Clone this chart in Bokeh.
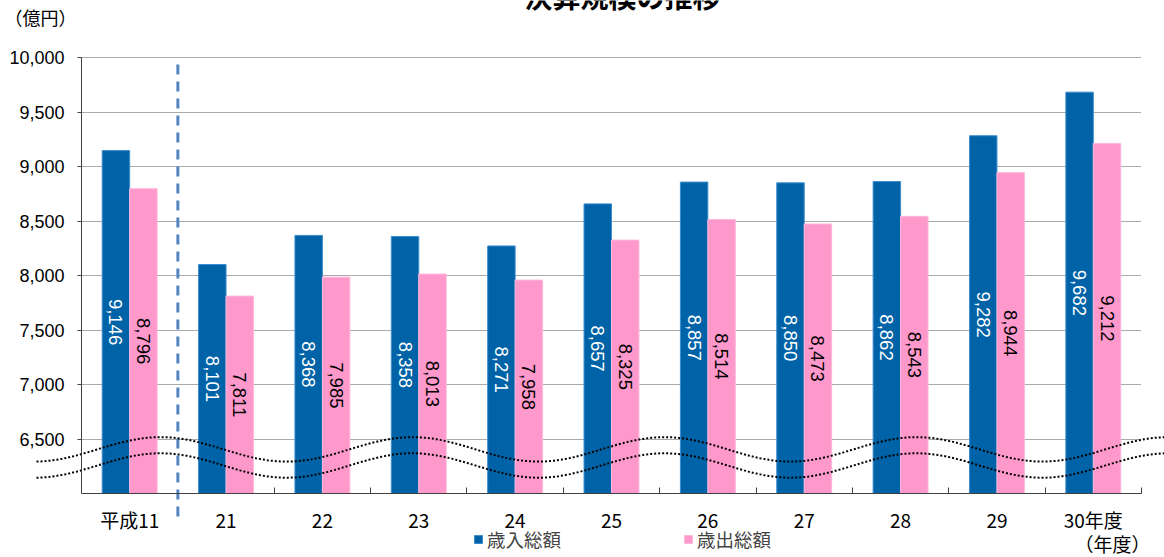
import numpy as np
from bokeh.plotting import figure
from bokeh.models import (ColumnDataSource, FixedTicker, NumeralTickFormatter,
                          Label, Legend, LegendItem, Range1d)
from bokeh.transform import dodge
from bokeh.core.properties import value
from bokeh.embed import file_html
from bokeh.resources import INLINE

# 決算規模（億円）
years = ["平成11", "21", "22", "23", "24", "25", "26", "27", "28", "29", "30年度"]
revenue = [9146, 8101, 8368, 8358, 8271, 8657, 8857, 8850, 8862, 9282, 9682]      # 歳入総額
expenditure = [8796, 7811, 7985, 8013, 7958, 8325, 8514, 8473, 8543, 8944, 9212]  # 歳出総額
y_ticks = [6500, 7000, 7500, 8000, 8500, 9000, 9500, 10000]
axis_base, axis_top = 6000, 10000

BLUE = "#0063a7"
PINK = "#ff99cc"
JP = "Noto Sans CJK JP"
LAT = "Liberation Sans"

W, H = 1164, 557
# pixel box of the axes inside the canvas
left_px, right_px, top_px, bottom_px = 81, 1141, 57, 493
n = len(years)
ppu_x = (right_px - left_px) / n
ppu_y = (bottom_px - top_px) / (axis_top - axis_base)
x_range = Range1d(-0.5 - left_px / ppu_x, n - 0.5 + (W - right_px) / ppu_x)
y_range = Range1d(axis_base - (H - bottom_px) / ppu_y, axis_top + top_px / ppu_y)

p = figure(width=W, height=H, x_range=x_range, y_range=y_range,
           output_backend="svg", toolbar_location=None, min_border=0,
           outline_line_color=None, background_fill_color="white")

idx = list(range(n))
src = ColumnDataSource(dict(
    x=idx,
    rev=revenue,
    exp=expenditure,
    rev_mid=[(axis_base + v) / 2 for v in revenue],
    exp_mid=[(axis_base + v) / 2 for v in expenditure],
    rev_txt=[f"{v:,}" for v in revenue],
    exp_txt=[f"{v:,}" for v in expenditure],
))

bw = 0.285
r_rev = p.vbar(x=dodge("x", -bw / 2), top="rev", bottom=axis_base, width=bw, source=src,
               fill_color=BLUE, line_color="#3b8dcf", line_width=1)
r_exp = p.vbar(x=dodge("x", bw / 2), top="exp", bottom=axis_base, width=bw, source=src,
               fill_color=PINK, line_color="#ffb8dc", line_width=1)

# value labels, rotated, centred in each bar
p.text(x=dodge("x", -bw / 2), y="rev_mid", text="rev_txt", source=src, angle=-np.pi / 2,
       text_align="center", text_baseline="middle", text_color="white",
       text_font=value(LAT), text_font_size="18.5px")
p.text(x=dodge("x", bw / 2), y="exp_mid", text="exp_txt", source=src, angle=-np.pi / 2,
       text_align="center", text_baseline="middle", text_color="black",
       text_font=value(LAT), text_font_size="18.5px")

# separator between 平成11 and 21
sep_x = 0.5
p.line([sep_x, sep_x], [axis_top - 7 / ppu_y, axis_base - 24 / ppu_y],
       line_color="#5585c0", line_width=3, line_dash="10 7")

# axis-break waves
wave_period = 2.615
wave_phase = 0.32
wave_amp = 112
wx = np.linspace(-0.5 - 45 / ppu_x, x_range.end, 500)
for centre in (6405, 6257):
    p.line(wx, centre + wave_amp * np.cos(2 * np.pi * (wx - wave_phase) / wave_period),
           line_color="black", line_width=2, line_dash="2 2")

# y axis
yax = p.yaxis[0]
yax.fixed_location = -0.5
yax.bounds = (axis_base, axis_top)
yax.ticker = FixedTicker(ticks=y_ticks)
yax.formatter = NumeralTickFormatter(format="0,0")
yax.major_tick_in = 0
yax.major_tick_out = 4
yax.minor_tick_in = 0
yax.minor_tick_out = 0
yax.axis_line_color = "#404040"
yax.major_tick_line_color = "#404040"
yax.major_label_text_font = LAT
yax.major_label_text_font_size = "18px"
yax.major_label_text_color = "black"
yax.major_label_standoff = 13

# x axis
xax = p.xaxis[0]
xax.fixed_location = axis_base
xax.bounds = (-0.5, n - 0.5)
xax.ticker = FixedTicker(ticks=idx, minor_ticks=[i + 0.5 for i in range(1, n)])
xax.major_label_overrides = {i: lab for i, lab in enumerate(years)}
xax.major_tick_in = 0
xax.major_tick_out = 0
xax.minor_tick_in = 6
xax.minor_tick_out = 0
xax.axis_line_color = "#404040"
xax.minor_tick_line_color = "#404040"
xax.major_label_text_font = JP
xax.major_label_text_font_size = "19px"
xax.major_label_text_color = "black"
xax.major_label_standoff = 12

# grid
p.xgrid.visible = False
p.ygrid.ticker = FixedTicker(ticks=y_ticks)
p.ygrid.bounds = (axis_base, y_range.end)
p.ygrid.cross_bounds = (-0.5, n - 0.5)
p.ygrid.grid_line_color = "#555555"
p.ygrid.grid_line_dash = "1 1"
p.ygrid.grid_line_width = 1

# texts
p.add_layout(Label(x=622, y=H + 5, x_units="screen", y_units="screen", text="決算規模の推移",
                   text_align="center", text_baseline="middle", text_font=JP,
                   text_font_style="bold", text_font_size="28px", text_color="black"))
p.add_layout(Label(x=4, y=H - 16, x_units="screen", y_units="screen", text="（億円）",
                   text_align="left", text_baseline="middle", text_font=JP,
                   text_font_size="18px", text_color="black"))
p.add_layout(Label(x=1112, y=H - 543, x_units="screen", y_units="screen", text="（年度）",
                   text_align="center", text_baseline="middle", text_font=JP,
                   text_font_size="19px", text_color="black"))

legend = Legend(items=[LegendItem(label="歳入総額", renderers=[r_rev]),
                       LegendItem(label="歳出総額", renderers=[r_exp])],
                orientation="horizontal", location=(473, 5),
                glyph_width=10, glyph_height=10, label_standoff=4, spacing=122,
                padding=0, margin=0, border_line_color=None, background_fill_alpha=0,
                label_text_font=JP, label_text_font_size="18.5px")
p.add_layout(legend)

open("out.html", "w").write(file_html(p, INLINE))
